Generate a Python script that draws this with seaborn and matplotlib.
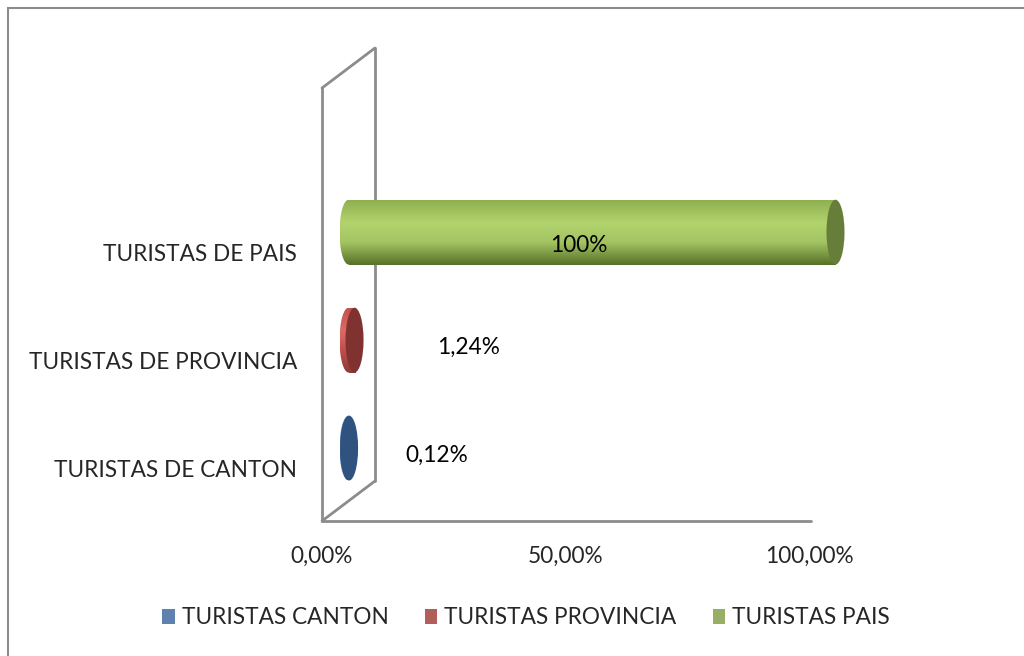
import matplotlib
matplotlib.use('Agg')
import matplotlib.pyplot as plt
import matplotlib.transforms as mtransforms
from matplotlib.patches import Ellipse, Rectangle
from matplotlib.colors import LinearSegmentedColormap
import seaborn as sns
import pandas as pd
import numpy as np

categorias = ['TURISTAS DE PAIS', 'TURISTAS DE PROVINCIA', 'TURISTAS DE CANTON']
series = ['TURISTAS PAIS', 'TURISTAS PROVINCIA', 'TURISTAS CANTON']
valores = [1.00, 0.0124, 0.0012]
etiquetas = ['100%', '1,24%', '0,12%']
orden_leyenda = ['TURISTAS CANTON', 'TURISTAS PROVINCIA', 'TURISTAS PAIS']
ticks = [0, 0.5, 1.0]
tick_labels = ['0,00%', '50,00%', '100,00%']

colores = {'TURISTAS CANTON': '#4F81BD', 'TURISTAS PROVINCIA': '#C0504D', 'TURISTAS PAIS': '#9BBB59'}
# shading of the cylinders (top -> bottom) and colour of the end cap
cuerpo = {
    'TURISTAS CANTON': ['#4C7AB3', '#6A96D0', '#4E7DB8', '#35598A'],
    'TURISTAS PROVINCIA': ['#C4514E', '#DE6A65', '#BF4F4B', '#8E3A37'],
    'TURISTAS PAIS': ['#90B050', '#B2D36D', '#A3C462', '#577129'],
}
tapa = {'TURISTAS CANTON': '#30527F', 'TURISTAS PROVINCIA': '#7F3230', 'TURISTAS PAIS': '#677E3A'}
# label offsets in pixels from the bar end / bar centre
etiqueta_offset = {'TURISTAS PAIS': (-13, -13), 'TURISTAS PROVINCIA': (114, -7), 'TURISTAS CANTON': (88, -7)}

df = pd.DataFrame({'categoria': categorias, 'serie': series, 'valor': valores})

sns.set_style('white')
plt.rcParams['font.family'] = ['Lato', 'DejaVu Sans']
fs = 16.3

fig = plt.figure(figsize=(10.24, 6.56), dpi=100)
ax = fig.add_axes([322/1024, (656-521)/656, 487/1024, 433/656])

sns.barplot(data=df, y='categoria', x='valor', hue='serie', order=categorias,
            hue_order=orden_leyenda, palette=colores, dodge=False, width=0.6, ax=ax)

handles, labels = ax.get_legend_handles_labels()
ax.get_legend().remove()
for hnd in handles:
    hnd.set_edgecolor('none')

# bars sit half way into the depth of the 3d box
tr = ax.transData + mtransforms.ScaledTranslation(26.5/100, 20/100, fig.dpi_scale_trans)
ew = 9/487
grad = np.linspace(0, 1, 200).reshape(-1, 1)

for serie, cont in zip(orden_leyenda, ax.containers):
    cmap = LinearSegmentedColormap.from_list(serie, list(zip([0, 0.35, 0.65, 1], cuerpo[serie])))
    for bar in cont:
        x0, w, y0, h = bar.get_x(), bar.get_width(), bar.get_y(), bar.get_height()
        bar.set_transform(tr)
        bar.set_facecolor('none')
        bar.set_edgecolor('none')
        bar.set_clip_on(False)
        izq = Ellipse((x0, y0 + h/2), 2*ew, h, transform=tr, facecolor='none', edgecolor='none')
        ax.add_patch(izq)
        for clip in [bar, izq]:
            im = ax.imshow(grad, cmap=cmap, extent=(x0 - ew, x0 + w + ew, y0 + h, y0),
                           aspect='auto', transform=tr, zorder=2, interpolation='bicubic')
            im.set_clip_box(fig.bbox)
            im.set_clip_path(clip)
        ax.add_patch(Ellipse((x0 + w, y0 + h/2), 2*ew, h, transform=tr, clip_on=False,
                             facecolor=tapa[serie], edgecolor='none', zorder=3))
        i = series.index(serie)
        xl = valores[i]/2 if valores[i] > 0.5 else valores[i]
        ax.annotate(etiquetas[i], xy=(xl, y0 + h/2), xycoords=tr,
                    xytext=etiqueta_offset[serie], textcoords='offset pixels',
                    ha='center', va='center', fontsize=fs, color='black', zorder=4)

ax.set_xlim(0, 1)
ax.set_ylim(2.49, -1.52)
ax.set_xticks(ticks, tick_labels)
ax.set_xlabel('')
ax.set_ylabel('')
ax.tick_params(axis='x', length=0, pad=18, labelsize=fs)
ax.tick_params(axis='y', length=0, pad=18, labelsize=fs)
for s in ax.spines.values():
    s.set_visible(False)

# 3d box: front edge, floor, back wall
dx, dy = 53/487, 40/433
gris = '#8C8C8C'
for xs, ys in [([0, 0], [0, 1]), ([0, 1.004], [0, 0]), ([dx, dx], [dy, 1 + dy]),
               ([0, dx], [0, dy]), ([0, dx], [1, 1 + dy])]:
    ax.plot(xs, ys, transform=ax.transAxes, color=gris, lw=2, clip_on=False, zorder=1)

fig.legend(handles, labels, loc='center', bbox_to_anchor=(526/1024, 38/656), ncol=3,
           frameon=False, fontsize=fs, handlelength=0.55, handleheight=0.6,
           handletextpad=0.3, columnspacing=1.6)

fig.patches.append(Rectangle((8/1024, -0.1), 1.2, 1.1 - 8/656, transform=fig.transFigure,
                             fill=False, edgecolor='#8C8C8C', lw=1.5))

fig.savefig('out.png', dpi=100)
